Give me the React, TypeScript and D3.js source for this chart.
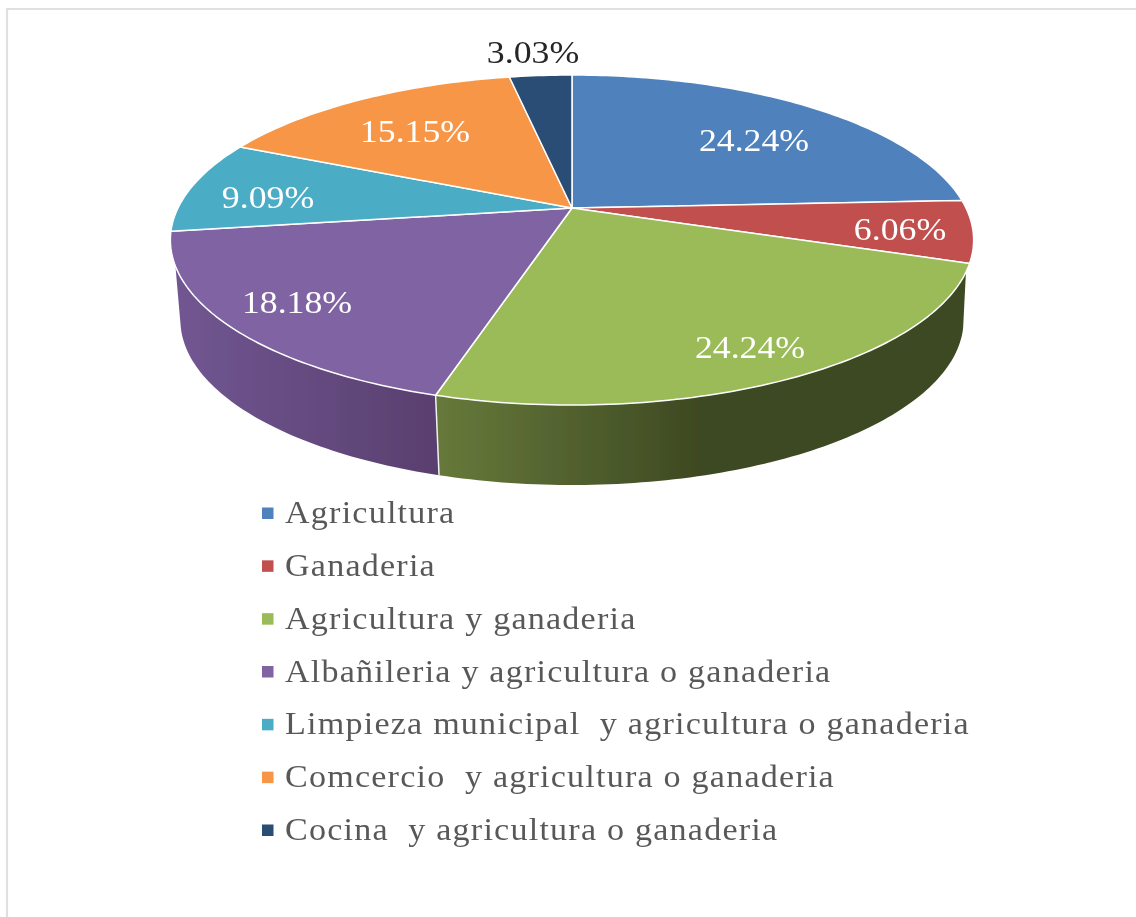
import React, { useEffect, useRef } from "react";
import * as d3 from "d3";

const categories = [
  "Agricultura",
  "Ganaderia",
  "Agricultura y ganaderia",
  "Albañileria y agricultura o ganaderia",
  "Limpieza municipal  y agricultura o ganaderia",
  "Comcercio  y agricultura o ganaderia",
  "Cocina  y agricultura o ganaderia",
];
const values = [24.24, 6.06, 24.24, 18.18, 9.09, 15.15, 3.03];
const colors = ["#4f81bd", "#c0504d", "#9bbb59", "#8064a2", "#4bacc6", "#f79646", "#2c4d75"];

const W = 1136, H = 917;
const CX = 572, CY = 208, R = 394, TILT = 158.8, K = 0.194, DEPTH = 80, BOTTOM_SCALE = 0.975;
const deg = Math.PI / 180;
const rim = (a: number, s = 1, dy = 0): [number, number] => {
  const u = Math.sin(a), v = Math.cos(a), w = 1 + K * v;
  return [CX + (R * s * u) / w, CY + dy - (TILT * v) / w];
};
const arcPts = (a0: number, a1: number, s = 1, dy = 0) => {
  const n = Math.max(2, Math.ceil(Math.abs(a1 - a0) / (1 * deg)));
  return d3.range(n + 1).map((i) => rim(a0 + ((a1 - a0) * i) / n, s, dy));
};

export default function App() {
  const ref = useRef<SVGSVGElement>(null);
  useEffect(() => {
    const svg = d3.select(ref.current!);
    svg.selectAll("*").remove();
    const defs = svg.append("defs");
    defs.append("filter").attr("id", "soft").append("feGaussianBlur").attr("stdDeviation", 0.55);
    const grad = (id: string, x1: number, x2: number, c1: string, c2: string) => {
      const g = defs.append("linearGradient").attr("id", id).attr("gradientUnits", "userSpaceOnUse")
        .attr("x1", x1).attr("x2", x2).attr("y1", 0).attr("y2", 0);
      g.append("stop").attr("offset", 0).attr("stop-color", c1);
      g.append("stop").attr("offset", 1).attr("stop-color", c2);
    };
    grad("sideGreen", 440, 700, "#66793a", "#3e4922");
    grad("sidePurple", 175, 440, "#715692", "#593f6e");

    svg.append("rect").attr("width", W).attr("height", H).attr("fill", "#fff");
    svg.append("path").attr("d", `M7,${H} V9 H${W}`).attr("fill", "none").attr("stroke", "#e0e0e0").attr("stroke-width", 2.2);

    const pie = d3.pie<number>().sort(null).startAngle(0).endAngle(2 * Math.PI);
    const arcs = pie(values);
    const line = d3.line();
    const g = svg.append("g").attr("filter", "url(#soft)");

    // side walls
    const green = arcs[2], purple = arcs[3];
    const gTop = arcPts(112 * deg, green.endAngle);
    const gBot = arcPts(green.endAngle, 104 * deg, BOTTOM_SCALE, DEPTH);
    g.append("path").attr("d", line([...gTop, ...gBot])! + "Z").attr("fill", "url(#sideGreen)");
    const pTop = arcPts(purple.startAngle, 250 * deg);
    const pBot = arcPts(257 * deg, purple.startAngle, BOTTOM_SCALE, DEPTH);
    g.append("path").attr("d", line([...pTop, ...pBot])! + "Z").attr("fill", "url(#sidePurple)");
    const a = rim(purple.startAngle), b = rim(purple.startAngle, BOTTOM_SCALE, DEPTH);
    g.append("line").attr("x1", a[0]).attr("y1", a[1]).attr("x2", b[0]).attr("y2", b[1])
      .attr("stroke", "#f2f2f2").attr("stroke-width", 1.5);

    // top faces
    g.selectAll("path.slice").data(arcs).join("path").attr("class", "slice")
      .attr("d", (d) => line([[CX, CY], ...arcPts(d.startAngle, d.endAngle)])! + "Z")
      .attr("fill", (_, i) => colors[i])
      .attr("stroke", "#fff").attr("stroke-width", 1.5).attr("stroke-linejoin", "round");

    // data labels
    const labelAt: [number, number][] = [[754, 140], [900, 229], [750, 347], [297, 302], [268, 197], [415, 131], [533, 52]];
    const fmt = (v: number) => d3.format(".2f")(v) + "%";
    g.selectAll("text.val").data(values).join("text").attr("class", "val")
      .attr("transform", (_, i) => `translate(${labelAt[i][0]},${labelAt[i][1] + 11}) scale(1.1,1)`)
      .attr("text-anchor", "middle")
      .attr("font-family", "'Liberation Serif'").attr("font-size", 32.5)
      .attr("fill", (_, i) => (i === 6 ? "#262626" : "#ffffff"))
      .text(fmt);

    // legend
    const y = d3.scalePoint<string>().domain(categories).range([513, 830]);
    const lg = g.selectAll("g.leg").data(categories).join("g").attr("class", "leg")
      .attr("transform", (d) => `translate(0,${y(d)})`);
    lg.append("rect").attr("x", 262).attr("y", -5.5).attr("width", 11.5).attr("height", 11.5)
      .attr("fill", (_, i) => colors[i]);
    lg.append("text").attr("transform", "translate(285,10) scale(1.1,1)")
      .style("white-space", "pre").style("letter-spacing", "1.1px")
      .attr("font-family", "'Liberation Serif'").attr("font-size", 31)
      .attr("fill", "#595959").text((d) => d);
  }, []);
  return <svg ref={ref} width={W} height={H} style={{ position: "absolute", left: 0, top: 0, display: "block" }} />;
}
